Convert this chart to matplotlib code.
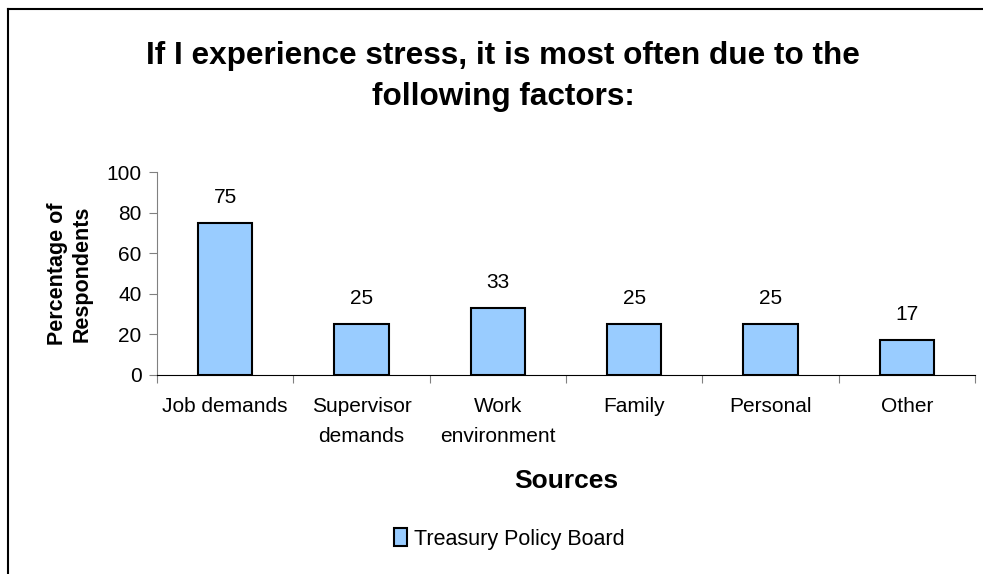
import numpy as np
import matplotlib.pyplot as plt
from matplotlib.lines import Line2D

plt.rcParams['font.family'] = ['Liberation Sans', 'DejaVu Sans']

categories = ["Job demands", "Supervisor\ndemands", "Work\nenvironment", "Family", "Personal", "Other"]
values = [75, 25, 33, 25, 25, 17]
series_name = "Treasury Policy Board"

fig = plt.figure(figsize=(9.83, 5.74), dpi=100)
ax = fig.add_axes([0.1597, 0.3467, 0.8322, 0.3536])

x = np.arange(len(categories))
bars = ax.bar(x, values, width=0.4, color='#99CCFF', edgecolor='black', linewidth=1.5,
              label=series_name, zorder=3)
for xi, v in zip(x, values):
    ax.text(xi, v + 8, str(v), ha='center', va='bottom', fontsize=15)

ax.set_xlim(-0.5, len(categories) - 0.5)
ax.set_ylim(0, 100)
ax.set_yticks([0, 20, 40, 60, 80, 100])
ax.set_xticks(np.arange(len(categories) + 1) - 0.5, minor=False)
ax.set_xticklabels([])
ax.set_xticks(x, minor=True)
ax.set_xticklabels(categories, minor=True, fontsize=15, linespacing=1.75, va='top')
ax.tick_params(axis='x', which='minor', length=0, pad=16)
ax.tick_params(axis='x', which='major', length=6, color='#808080', direction='out')
ax.tick_params(axis='y', length=6, color='#808080', labelsize=15, pad=5)

for s in ['top', 'right']:
    ax.spines[s].set_visible(False)
ax.spines['left'].set_color('#808080')
ax.spines['bottom'].set_color('black')

ax.set_ylabel("Percentage of\nRespondents", fontsize=15.5, fontweight='bold', labelpad=10, linespacing=1.25)
ax.set_xlabel("Sources", fontsize=19, fontweight='bold', labelpad=16)

fig.text(0.512, 0.867, "If I experience stress, it is most often due to the\nfollowing factors:",
         ha='center', va='center', fontsize=22.7, fontweight='bold', linespacing=1.45)

fig.legend(handles=[bars], labels=[series_name], loc='center', bbox_to_anchor=(0.518, 0.061),
           frameon=False, fontsize=15.5, handlelength=0.6, handleheight=0.9, handletextpad=0.3)

fig.add_artist(Line2D([8 / 983, 1.0], [1 - 9 / 574, 1 - 9 / 574], color='black', lw=1.5))
fig.add_artist(Line2D([8 / 983, 8 / 983], [0, 1 - 9 / 574], color='black', lw=1.5))

fig.savefig('out.png', dpi=100)
